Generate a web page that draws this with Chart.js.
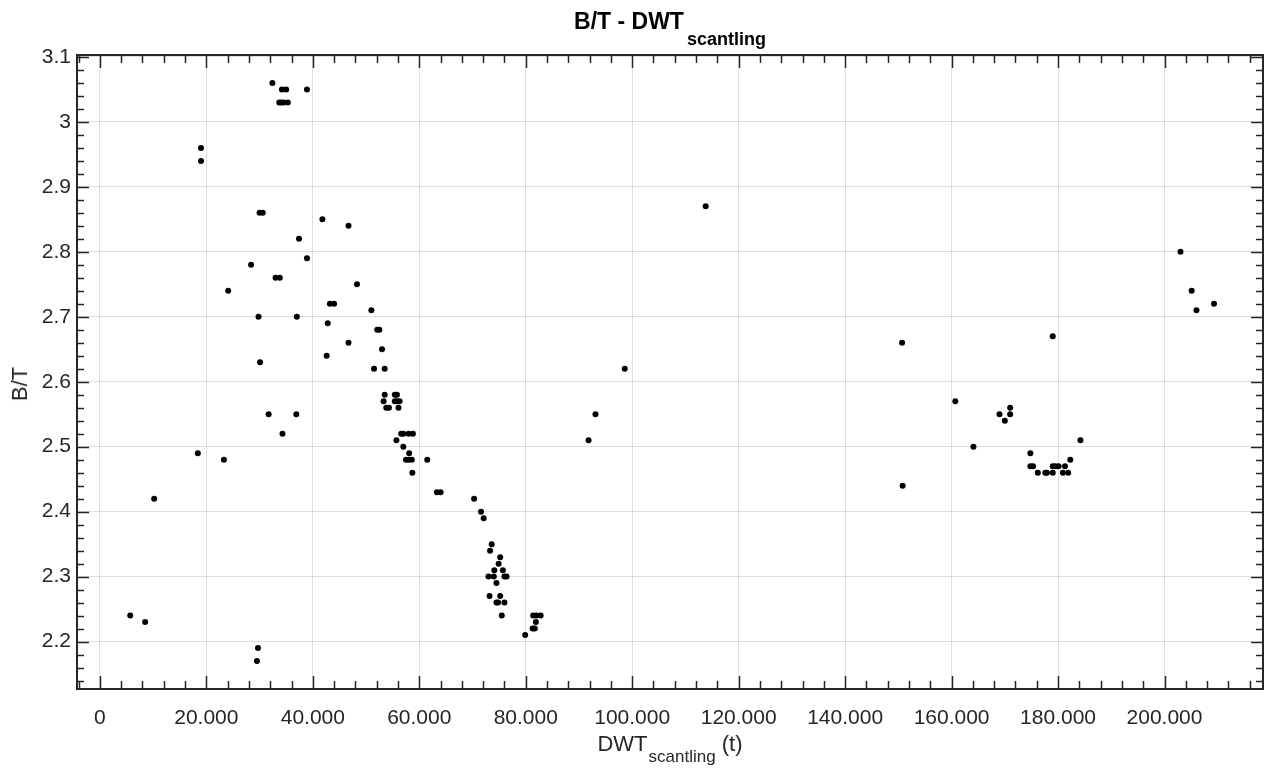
<!DOCTYPE html>
<html>
<head>
<meta charset="utf-8">
<script src="https://cdn.jsdelivr.net/npm/chart.js"></script>
<style>
  body { margin: 0; background: #fff; }
  #wrap { position: relative; width: 1271px; height: 769px; font-family: "Liberation Sans", Arial, sans-serif; color: #000; }
  #title { position: absolute; left: 77px; width: 1186px; top: 10px; text-align: center; font-size: 23px; line-height: 1; font-weight: bold; }
  #title span { font-size: 18px; position: relative; top: 16px; margin-left: 3px; }
  #xlabel { position: absolute; left: 77px; width: 1186px; top: 733px; text-align: center; font-size: 22px; line-height: 1; color: #262626; }
  #xlabel span { font-size: 17px; position: relative; top: 11px; margin-left: 1px; }
  #ylabel { position: absolute; left: 20px; top: 384px; transform: translate(-50%, -50%) rotate(-90deg); font-size: 22px; line-height: 1; color: #262626; white-space: nowrap; }
</style>
</head>
<body>
<div id="wrap">
  <canvas id="myChart" width="1271" height="769"></canvas>
  <div id="title">B/T - DWT<span>scantling</span></div>
  <div id="xlabel">DWT<span>scantling</span> (t)</div>
  <div id="ylabel">B/T</div>
</div>

<script>
// Data
const dwt = [
  5700, 8500, 10200, 18400, 19000, 19000, 23300, 24100, 28400, 29800,
  29700, 29500, 30100, 30000, 30600, 31700, 32400, 33000, 33800, 34300,
  33700, 34100, 34500, 35300, 34200, 35000, 36900, 37000, 37400, 38900,
  38900, 41800, 42600, 42800, 43200, 44000, 46700, 46700, 48300, 51000,
  51500, 52100, 52500, 53000, 53500, 53500, 55400, 55800, 53300, 55400,
  55800, 56300, 53800, 54300, 56100, 55700, 56600, 57000, 58000, 58800,
  57000, 58100, 57500, 58000, 58600, 61500, 58700, 63300, 64000, 70300,
  71600, 72100, 73600, 73300, 75200, 74900, 74100, 75700, 73000, 74000,
  76000, 76400, 74500, 73200, 75200, 74500, 74800, 76000, 75500, 81400,
  82000, 82800, 81900, 81300, 81700, 79900, 91800, 93100, 98600, 113800,
  150700, 150800, 160700, 164100, 169000, 170000, 171000, 171000, 174800, 174800,
  175300, 176200, 177600, 177900, 179000, 179000, 179500, 180100, 181300, 180900,
  181900, 182300, 184200, 179000, 203000, 205100, 206000, 209300
];
const bt = [
  2.24, 2.23, 2.42, 2.49, 2.96, 2.94, 2.48, 2.74, 2.78, 2.70,
  2.19, 2.17, 2.63, 2.86, 2.86, 2.55, 3.06, 2.76, 2.76, 2.52,
  3.03, 3.03, 3.03, 3.03, 3.05, 3.05, 2.55, 2.70, 2.82, 3.05,
  2.79, 2.85, 2.64, 2.69, 2.72, 2.72, 2.84, 2.66, 2.75, 2.71,
  2.62, 2.68, 2.68, 2.65, 2.62, 2.58, 2.58, 2.58, 2.57, 2.57,
  2.57, 2.57, 2.56, 2.56, 2.56, 2.51, 2.52, 2.52, 2.52, 2.52,
  2.50, 2.49, 2.48, 2.48, 2.48, 2.48, 2.46, 2.43, 2.43, 2.42,
  2.40, 2.39, 2.35, 2.34, 2.33, 2.32, 2.31, 2.31, 2.30, 2.30,
  2.30, 2.30, 2.29, 2.27, 2.27, 2.26, 2.26, 2.26, 2.24, 2.24,
  2.24, 2.24, 2.23, 2.22, 2.22, 2.21, 2.51, 2.55, 2.62, 2.87,
  2.66, 2.44, 2.57, 2.50, 2.55, 2.54, 2.55, 2.56, 2.49, 2.47,
  2.47, 2.46, 2.46, 2.46, 2.46, 2.47, 2.47, 2.47, 2.47, 2.46,
  2.46, 2.48, 2.51, 2.67, 2.80, 2.74, 2.71, 2.72
];

const xTicks = [0, 20000, 40000, 60000, 80000, 100000, 120000, 140000, 160000, 180000, 200000];
const xTickLabels = ['0', '20.000', '40.000', '60.000', '80.000', '100.000', '120.000', '140.000', '160.000', '180.000', '200.000'];
const yTicks = [2.2, 2.3, 2.4, 2.5, 2.6, 2.7, 2.8, 2.9, 3.0, 3.1];
const yTickLabels = ['2.2', '2.3', '2.4', '2.5', '2.6', '2.7', '2.8', '2.9', '3', '3.1'];

const points = dwt.map((v, i) => ({ x: v, y: bt[i] }));

const axisColor = '#262626';
const gridColor = 'rgba(38,38,38,0.15)';
const tickFont = { family: '"Liberation Sans", Arial, sans-serif', size: 21 };

// box around the plot with inward major/minor ticks on all four sides
const boxTicks = {
  id: 'boxTicks',
  afterDraw(chart) {
    const { ctx, chartArea: a, scales: { x, y } } = chart;
    ctx.save();
    ctx.strokeStyle = axisColor;
    ctx.lineWidth = 1.5;
    ctx.beginPath();
    for (let k = Math.ceil(x.min / 4000); k * 4000 <= x.max; k++) {
      const px = Math.round(x.getPixelForValue(k * 4000)) + 0.5;
      const len = k % 5 === 0 ? 13 : 8;
      ctx.moveTo(px, a.bottom); ctx.lineTo(px, a.bottom - len);
      ctx.moveTo(px, a.top); ctx.lineTo(px, a.top + len);
    }
    for (let k = Math.ceil(y.min * 50); k / 50 <= y.max; k++) {
      const py = Math.round(y.getPixelForValue(k / 50)) + 0.5;
      const len = k % 5 === 0 ? 12 : 7;
      ctx.moveTo(a.left, py); ctx.lineTo(a.left + len, py);
      ctx.moveTo(a.right, py); ctx.lineTo(a.right - len, py);
    }
    ctx.stroke();
    ctx.lineWidth = 2;
    ctx.strokeRect(a.left, a.top, a.right - a.left, a.bottom - a.top);
    ctx.restore();
  }
};

const config = {
  type: 'scatter',
  data: {
    datasets: [{
      label: 'B/T',
      data: points,
      backgroundColor: '#000',
      borderWidth: 0,
      pointRadius: 3
    }]
  },
  options: {
    responsive: false,
    animation: false,
    layout: { padding: { top: 55, right: 8, left: 0, bottom: 0 } },
    plugins: { legend: { display: false }, tooltip: { enabled: false } },
    scales: {
      x: {
        type: 'linear',
        min: -4300,
        max: 218500,
        afterBuildTicks: s => { s.ticks = xTicks.map(v => ({ value: v })); },
        afterFit: s => { s.height = 80; },
        ticks: {
          color: axisColor,
          font: tickFont,
          padding: 17,
          maxRotation: 0,
          autoSkip: false,
          callback: v => xTickLabels[xTicks.indexOf(v)]
        },
        grid: { color: gridColor, lineWidth: 1, drawTicks: false },
        border: { display: false }
      },
      y: {
        type: 'linear',
        min: 2.127,
        max: 3.103,
        afterBuildTicks: s => { s.ticks = yTicks.map(v => ({ value: v })); },
        afterFit: s => { s.width = 77; },
        ticks: {
          color: axisColor,
          font: tickFont,
          padding: 6,
          autoSkip: false,
          callback: v => yTickLabels[yTicks.findIndex(t => Math.abs(t - v) < 1e-9)]
        },
        grid: { color: gridColor, lineWidth: 1, drawTicks: false },
        border: { display: false }
      }
    }
  },
  plugins: [boxTicks]
};

const myChart = new Chart(document.getElementById('myChart'), config);
</script>
</body>
</html>
